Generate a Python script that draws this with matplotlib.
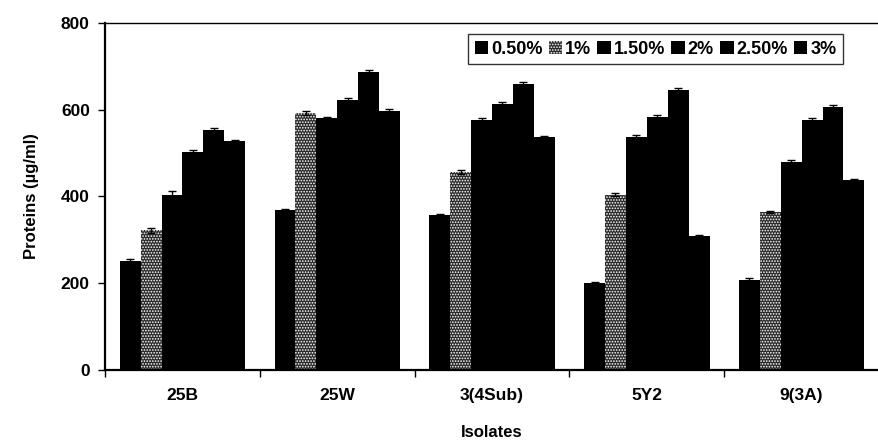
import numpy as np
import matplotlib.pyplot as plt

plt.rcParams['font.family'] = ['Liberation Sans', 'DejaVu Sans']
plt.rcParams['font.weight'] = 'bold'
plt.rcParams['hatch.color'] = 'white'
plt.rcParams['hatch.linewidth'] = 0.8

isolates = ['25B', '25W', '3(4Sub)', '5Y2', '9(3A)']
concentrations = ['0.50%', '1%', '1.50%', '2%', '2.50%', '3%']

# protein content (ug/ml), one list per concentration, ordered like isolates
p050 = [252, 368, 357, 200, 208]
p100 = [322, 593, 456, 404, 364]
p150 = [404, 580, 577, 537, 479]
p200 = [503, 622, 614, 583, 576]
p250 = [553, 688, 660, 646, 606]
p300 = [528, 598, 537, 309, 438]
series = [p050, p100, p150, p200, p250, p300]

# standard errors
e050 = [3, 3, 3, 3, 3]
e100 = [6, 4, 4, 4, 3]
e150 = [8, 4, 4, 4, 5]
e200 = [4, 4, 4, 4, 4]
e250 = [4, 4, 4, 4, 6]
e300 = [3, 3, 3, 3, 3]
errors = [e050, e100, e150, e200, e250, e300]

fig = plt.figure(figsize=(8.79, 4.44), dpi=100)
ax = fig.add_axes([0.1195, 0.1667, 0.8805, 0.7815])

x = np.arange(len(isolates))
w = 0.135
ekw = dict(ecolor='black', capsize=3, lw=1)
for i, (vals, err) in enumerate(zip(series, errors)):
    pos = x + (i - 2.5) * w
    if i == 1:
        ax.bar(pos, vals, w, color='#2a2a2a', hatch='......', label=concentrations[i],
               yerr=err, error_kw=ekw)
    else:
        ax.bar(pos, vals, w, color='black', label=concentrations[i],
               yerr=err, error_kw=ekw)

ax.set_xlim(-0.5, 4.5)
ax.set_ylim(0, 800)
ax.set_yticks([0, 200, 400, 600, 800])
ax.set_xticks(x)
ax.set_xticklabels(isolates, fontsize=12.5, fontweight='bold')
ax.set_xticks(np.arange(-0.5, 5, 1), minor=True)
ax.tick_params(axis='x', which='major', length=0, pad=13)
ax.tick_params(axis='x', which='minor', length=5, width=1, direction='out')
ax.tick_params(axis='y', labelsize=12.5, length=5, width=1, direction='out', pad=6)
for lab in ax.get_yticklabels():
    lab.set_fontweight('bold')

ax.spines['right'].set_visible(False)
for s in ['left', 'bottom']:
    ax.spines[s].set_linewidth(1.6)
ax.spines['top'].set_linewidth(1)

ax.set_ylabel('Proteins (\u00b5g/ml)', fontsize=12, fontweight='bold', labelpad=16)
ax.set_xlabel('Isolates', fontsize=12, fontweight='bold', labelpad=16)

leg = ax.legend(ncol=6, loc='upper right', bbox_to_anchor=(0.953, 0.967),
                frameon=True, fancybox=False, edgecolor='black',
                handlelength=0.75, handleheight=0.75, handletextpad=0.15,
                columnspacing=0.35, borderpad=0.35, borderaxespad=0,
                prop={'weight': 'bold', 'size': 13})
leg.get_frame().set_linewidth(1)

fig.savefig('out.png', dpi=100)
